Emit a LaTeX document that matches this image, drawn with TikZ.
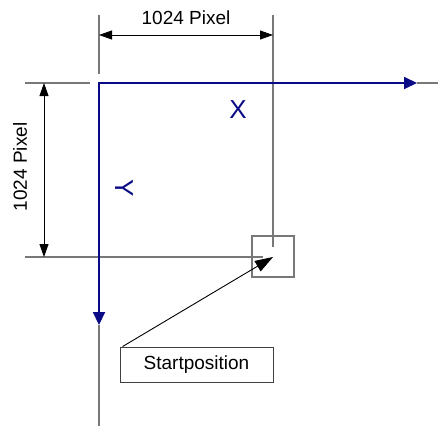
\documentclass[tikz,border=0pt]{standalone}
\usepackage{fontspec}
\setmainfont{Liberation Sans}
\usetikzlibrary{arrows.meta}
\definecolor{axisblue}{RGB}{10,10,135}
\definecolor{extgray}{RGB}{120,120,120}
\tikzset{
  axis/.style={draw=axisblue, line width=2pt, {Triangle[length=13pt,width=12pt]}-{Triangle[length=13pt,width=12pt]}},
  extline/.style={draw=extgray, line width=1.3pt},
  dimline/.style={draw=black, line width=0.9pt, {Triangle[length=13pt,width=9pt]}-{Triangle[length=13pt,width=9pt]}},
  lbl/.style={font=\fontsize{19}{22}\selectfont, inner sep=0pt},
  axlbl/.style={font=\fontsize{26}{30}\selectfont, text=axisblue, inner sep=0pt},
  boxnode/.style={draw=black!75, line width=0.9pt, inner sep=0pt},
  ptr/.style={draw=black, line width=0.9pt, -{Triangle[length=18pt,width=12pt]}}
}
\begin{document}
\begin{tikzpicture}[x=1pt,y=-1pt]
\useasboundingbox (0,0) rectangle (438,428);
% coordinates
\coordinate (O) at (99,83);
\coordinate (xend) at (438,83);
\coordinate (xtip) at (417,83);
\coordinate (ybot) at (99,426);
\coordinate (ytip) at (99,325);
\coordinate (sp) at (273,257);
% extension lines
\coordinate (t1a) at (99,15);
\coordinate (t1b) at (99,74);
\coordinate (t2a) at (273,15);
\coordinate (t2b) at (273,247);
\coordinate (l1a) at (25,83);
\coordinate (l1b) at (90,83);
\coordinate (l2a) at (25,257);
\coordinate (l2b) at (263,257);
\draw[extline] (t1a) -- (t1b);
\draw[extline] (t2a) -- (t2b);
\draw[extline] (l1a) -- (l1b);
\draw[extline] (l2a) -- (l2b);
% axis continuation lines
\draw[extline] (xtip) -- (xend);
\draw[extline] (ytip) -- (ybot);
% dimension lines
\coordinate (d1a) at (99,35);
\coordinate (d1b) at (273,35);
\coordinate (d2a) at (44,83);
\coordinate (d2b) at (44,257);
\draw[dimline] (d1a) -- (d1b);
\draw[dimline] (d2a) -- (d2b);
\node[lbl] (dimh) at (186,18) {1024 Pixel};
\node[lbl, rotate=90] (dimv) at (20,167) {1024 Pixel};
% axes
\draw[axis] (ytip) -- (O) -- (xtip);
\node[axlbl] (xl) at (238,110) {X};
\node[axlbl, rotate=-90] (yl) at (124,188) {Y};
% start square
\node[boxnode, draw=extgray, line width=1.2pt, minimum width=42pt, minimum height=41pt] (sq) at (273,256.5) {};
% start label
\node[boxnode, minimum width=153pt, minimum height=35pt, font=\fontsize{19}{22}\selectfont] (start) at (196.5,364.5) {Startposition};
\path (start.north west) ++(3,0) coordinate (pfrom);
\draw[ptr] (pfrom) -- (sp);
\end{tikzpicture}
\end{document}
